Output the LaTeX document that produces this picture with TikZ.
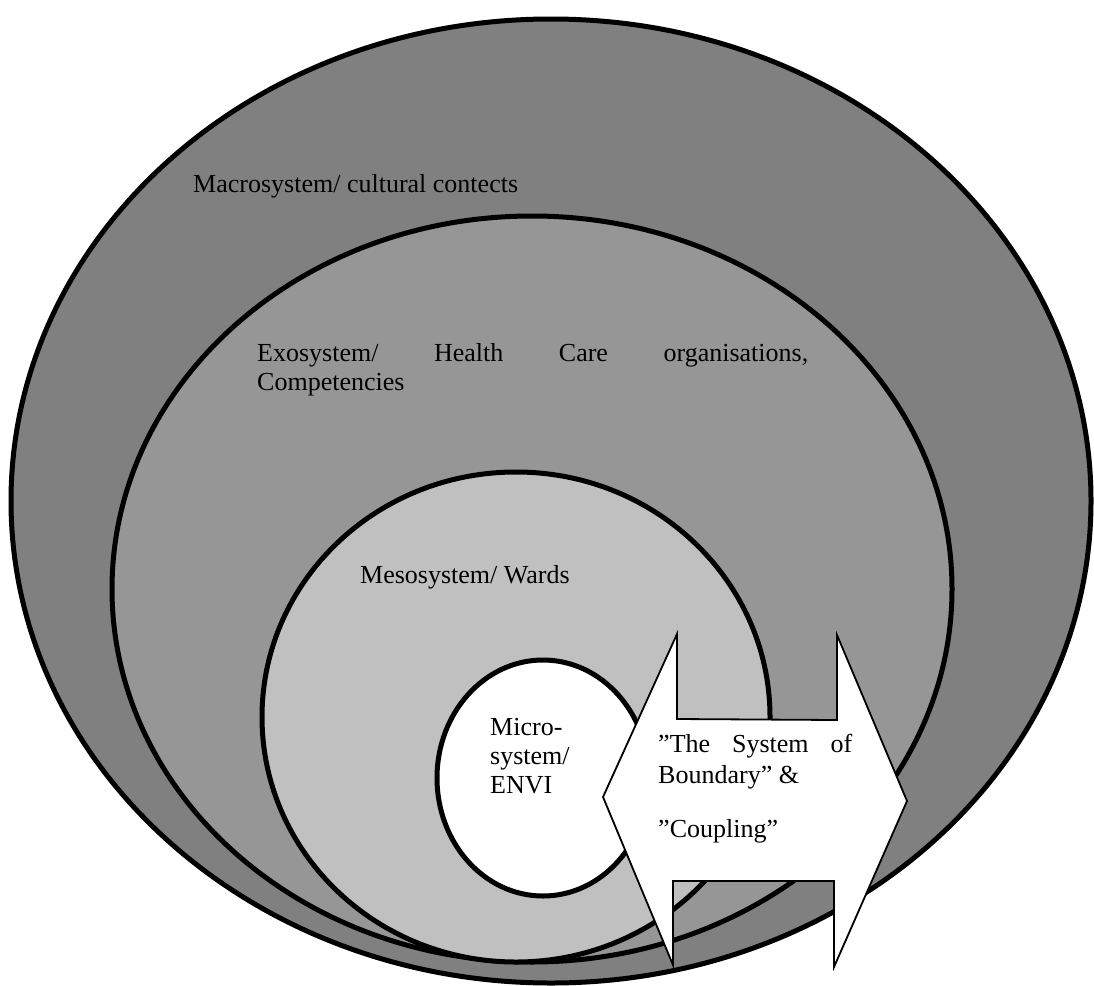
\documentclass[tikz,border=0pt]{standalone}
\usepackage{fontspec}
\setmainfont{Liberation Serif}
\definecolor{macrofill}{HTML}{808080}
\definecolor{exofill}{HTML}{969696}
\definecolor{mesofill}{HTML}{C0C0C0}
\begin{document}
\begin{tikzpicture}[x=1pt,y=-1pt,
  ring/.style={draw=black,line width=5pt},
  lbl/.style={anchor=base west,inner sep=0pt,font=\fontsize{26}{30}\selectfont,text=black},
  dblarrow/.style={fill=white,draw=black,line width=1.8pt,line join=miter}]
\useasboundingbox (0,0) rectangle (1094,985);
\filldraw[ring,fill=macrofill] (551,501) ellipse [x radius=540pt,y radius=482pt];
\filldraw[ring,fill=exofill] (532,589) ellipse [x radius=420pt,y radius=373pt];
\filldraw[ring,fill=mesofill] (516,717) ellipse [x radius=254pt,y radius=245pt];
\filldraw[ring,fill=white] (543,778) ellipse [x radius=106pt,y radius=118pt];
\filldraw[dblarrow] (603,797) -- (677,634) -- (677,719) -- (837,720) -- (837,635)
  -- (907,801) -- (834,967) -- (834,881) -- (673,881) -- (673,965) -- cycle;
\node[lbl] (macrotext) at (193,192) {Macrosystem/ cultural contects};
\node[lbl] (exotext) at (257,361) {\fontsize{26}{29}\selectfont\parbox[t]{560pt}{\makebox[551pt][s]{Exosystem/ Health Care organisations,}\\Competencies}};
\node[lbl] (mesotext) at (360,583) {Mesosystem/ Wards};
\node[lbl] (microtext) at (490,735) {\fontsize{26}{29}\selectfont\parbox[t]{110pt}{Micro-\\system/\\ENVI}};
\node[lbl] (arrowtext) at (658,752) {\fontsize{26}{31}\selectfont\parbox[t]{200pt}{\makebox[194pt][s]{”The System of}\\Boundary” \&\\[23pt]”Coupling”}};
\end{tikzpicture}
\end{document}
